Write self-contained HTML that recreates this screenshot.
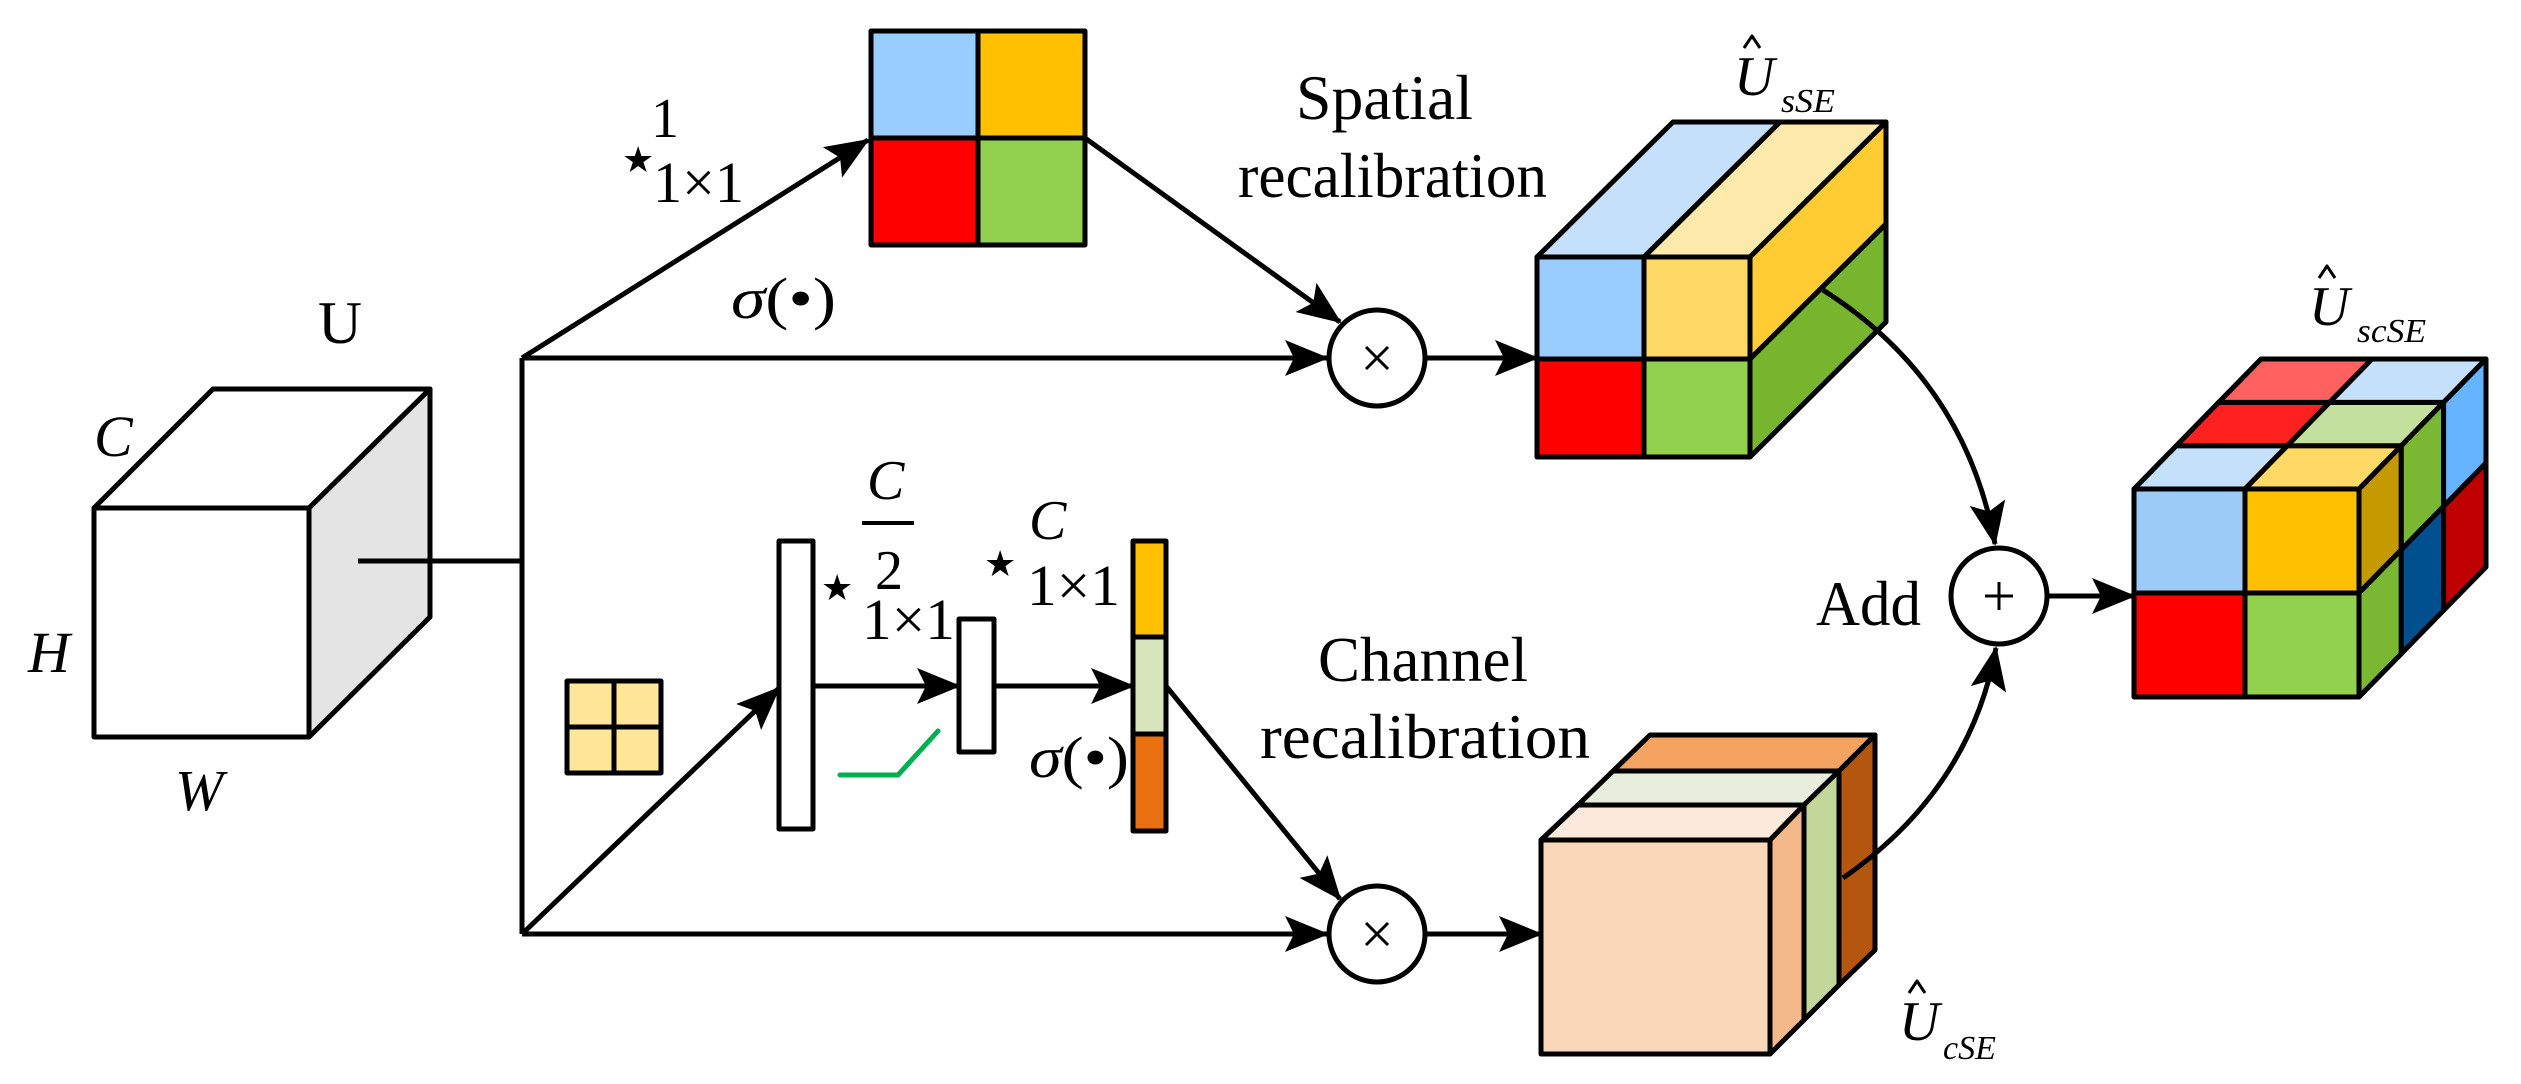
<!DOCTYPE html>
<html><head><meta charset="utf-8"><style>
html,body{margin:0;padding:0;background:#fff;}
svg{display:block;}
svg text{font-family:"Liberation Serif","DejaVu Serif",serif !important;fill:#000;}
</style></head><body>
<svg width="2521" height="1084" viewBox="0 0 2521 1084" xmlns="http://www.w3.org/2000/svg">
<defs>
<marker id="ah" markerWidth="46" markerHeight="36" refX="42" refY="18" orient="auto" markerUnits="userSpaceOnUse">
<path d="M0,0 L44,18 L0,36 L9,18 Z" fill="#000"/>
</marker>
</defs>
<g stroke="#000" stroke-width="5" stroke-linejoin="round" fill="none">
<polygon points="94,508 309,508 309,737 94,737" fill="#fff"/>
<polygon points="94,508 213,389 430,389 309,508" fill="#fff"/>
<polygon points="309,508 430,389 430,617 309,737" fill="#e4e4e4"/>
<line x1="358" y1="561" x2="522" y2="561"/>
<polyline points="522,358 522,934"/>
<line x1="522" y1="358" x2="868" y2="140" marker-end="url(#ah)"/>
<line x1="522" y1="358" x2="1327" y2="358" marker-end="url(#ah)"/>
<line x1="522" y1="934" x2="1327" y2="934" marker-end="url(#ah)"/>
<line x1="522" y1="934" x2="779" y2="688" marker-end="url(#ah)"/>
<rect x="871" y="31" width="107" height="107" fill="#99ccff"/>
<rect x="978" y="31" width="107" height="107" fill="#ffc000"/>
<rect x="871" y="138" width="107" height="107" fill="#ff0000"/>
<rect x="978" y="138" width="107" height="107" fill="#92d050"/>
<line x1="1085" y1="138" x2="1340" y2="322" marker-end="url(#ah)"/>
<rect x="567" y="681" width="94" height="92" fill="#ffe699"/>
<line x1="614" y1="681" x2="614" y2="773"/>
<line x1="567" y1="727" x2="661" y2="727"/>
<rect x="779" y="541" width="34" height="288" fill="#fff"/>
<line x1="813" y1="686" x2="959" y2="686" marker-end="url(#ah)"/>
<rect x="959" y="619" width="35" height="133" fill="#fff"/>
<line x1="994" y1="686" x2="1133" y2="686" marker-end="url(#ah)"/>
<rect x="1133" y="541" width="33" height="96" fill="#ffc000"/>
<rect x="1133" y="637" width="33" height="97" fill="#d8e4bc"/>
<rect x="1133" y="734" width="33" height="97" fill="#e97010"/>
<line x1="1166" y1="686" x2="1340" y2="899" marker-end="url(#ah)"/>
<circle cx="1377" cy="358" r="48" fill="#fff"/>
<circle cx="1377" cy="934" r="48" fill="#fff"/>
<line x1="1425" y1="358" x2="1537" y2="358" marker-end="url(#ah)"/>
<line x1="1425" y1="934" x2="1541" y2="934" marker-end="url(#ah)"/>
<polygon points="1537,257 1644,257 1780,122 1673,122" fill="#c5e0fb"/>
<polygon points="1644,257 1750,257 1886,122 1780,122" fill="#fde9a9"/>
<polygon points="1750,257 1886,122 1886,224 1750,359" fill="#ffcc33"/>
<polygon points="1750,359 1886,224 1886,322 1750,457" fill="#78b52f"/>
<rect x="1537" y="257" width="107" height="102" fill="#99ccff"/>
<rect x="1644" y="257" width="106" height="102" fill="#ffd966"/>
<rect x="1537" y="359" width="107" height="98" fill="#ff0000"/>
<rect x="1644" y="359" width="106" height="98" fill="#92d050"/>
<polygon points="1650,735 1875,735 1839,771 1613,771" fill="#f4a460"/>
<polygon points="1839,771 1875,735 1875,950 1839,985" fill="#b5560f"/>
<polygon points="1613,771 1839,771 1804,805 1578,805" fill="#e8eedc"/>
<polygon points="1804,805 1839,771 1839,985 1804,1020" fill="#c4d79b"/>
<polygon points="1578,805 1804,805 1770,840 1541,840" fill="#fde9d9"/>
<polygon points="1770,840 1804,805 1804,1020 1770,1054" fill="#f4b98b"/>
<rect x="1541" y="840" width="229" height="214" fill="#fad7b9"/>
<path d="M1823,290 Q1965,380 1995,544" marker-end="url(#ah)"/>
<path d="M1843,878 Q1970,790 1996,648" marker-end="url(#ah)"/>
<circle cx="1999" cy="596" r="48" fill="#fff"/>
<line x1="2047" y1="596" x2="2134" y2="596" marker-end="url(#ah)"/>
<polygon points="2134,489 2245,489 2287.3,445.7 2176.3,445.7" fill="#c5e0fb"/>
<polygon points="2245,489 2359,489 2401.3,445.7 2287.3,445.7" fill="#ffd966"/>
<polygon points="2176.3,445.7 2287.3,445.7 2329.6,402.4 2218.6,402.4" fill="#ff2020"/>
<polygon points="2287.3,445.7 2401.3,445.7 2443.6,402.4 2329.6,402.4" fill="#c4e09e"/>
<polygon points="2218.6,402.4 2329.6,402.4 2372,359 2261,359" fill="#ff6161"/>
<polygon points="2329.6,402.4 2443.6,402.4 2486,359 2372,359" fill="#c5e0fb"/>
<polygon points="2359,489 2401.3,445.7 2401.3,549.7 2359,593" fill="#c49a00"/>
<polygon points="2401.3,445.7 2443.6,402.4 2443.6,506.4 2401.3,549.7" fill="#7ab833"/>
<polygon points="2443.6,402.4 2486,359 2486,463 2443.6,506.4" fill="#66b3ff"/>
<polygon points="2359,593 2401.3,549.7 2401.3,653.7 2359,697" fill="#7ab833"/>
<polygon points="2401.3,549.7 2443.6,506.4 2443.6,610.4 2401.3,653.7" fill="#005090"/>
<polygon points="2443.6,506.4 2486,463 2486,567 2443.6,610.4" fill="#c00000"/>
<rect x="2134" y="489" width="111" height="104" fill="#9ccbf8"/>
<rect x="2245" y="489" width="114" height="104" fill="#ffc000"/>
<rect x="2134" y="593" width="111" height="104" fill="#ff0000"/>
<rect x="2245" y="593" width="114" height="104" fill="#92d050"/>
<polyline points="1744,48 1752,36 1760,48" stroke-width="3"/>
<polyline points="2319,278 2327,266 2335,278" stroke-width="3"/>
<polyline points="1909,993 1917,981 1925,993" stroke-width="3"/>
<line x1="862" y1="523" x2="914" y2="523" stroke-width="4"/>
</g>
<polyline points="840,775 898,775 938,731" fill="none" stroke="#00b050" stroke-width="5" stroke-linecap="round"/>
<g stroke="#000" stroke-width="3">
<line x1="1366" y1="347" x2="1388" y2="369"/><line x1="1388" y1="347" x2="1366" y2="369"/>
<line x1="1366" y1="923" x2="1388" y2="945"/><line x1="1388" y1="923" x2="1366" y2="945"/>
<line x1="1999" y1="582" x2="1999" y2="610"/><line x1="1985" y1="596" x2="2013" y2="596"/>
</g>
<g font-family="Liberation Serif, serif">
<text x="318" y="343" font-size="60" textLength="44" lengthAdjust="spacingAndGlyphs">U</text>
<text x="94" y="456" font-size="58" font-style="italic">C</text>
<text x="28" y="672" font-size="58" font-style="italic">H</text>
<text x="175" y="810" font-size="58" font-style="italic">W</text>
<text x="651" y="137" font-size="56">1</text>
<text x="622" y="172" font-size="36">★</text>
<text x="653" y="202" font-size="58" textLength="91" lengthAdjust="spacingAndGlyphs">1×1</text>
<text x="731" y="318" font-size="58" textLength="105" lengthAdjust="spacingAndGlyphs"><tspan font-style="italic">σ</tspan>(•)</text>
<text x="867" y="499" font-size="56" font-style="italic">C</text>
<text x="875" y="589" font-size="56">2</text>
<text x="821" y="600" font-size="36">★</text>
<text x="862" y="639" font-size="58" textLength="93" lengthAdjust="spacingAndGlyphs">1×1</text>
<text x="1029" y="539" font-size="56" font-style="italic">C</text>
<text x="984" y="576" font-size="36">★</text>
<text x="1027" y="605" font-size="58" textLength="93" lengthAdjust="spacingAndGlyphs">1×1</text>
<text x="1029" y="777" font-size="58" textLength="100" lengthAdjust="spacingAndGlyphs"><tspan font-style="italic">σ</tspan>(•)</text>
<text x="1296" y="119" font-size="64" textLength="177" lengthAdjust="spacingAndGlyphs">Spatial</text>
<text x="1238" y="197" font-size="64" textLength="309" lengthAdjust="spacingAndGlyphs">recalibration</text>
<text x="1318" y="681" font-size="64" textLength="210" lengthAdjust="spacingAndGlyphs">Channel</text>
<text x="1260" y="758" font-size="64" textLength="330" lengthAdjust="spacingAndGlyphs">recalibration</text>
<text x="1816" y="625" font-size="64" textLength="105" lengthAdjust="spacingAndGlyphs">Add</text>
<text x="1734" y="95" font-size="56" font-style="italic">U</text>
<text x="1781" y="112" font-size="34" font-style="italic" textLength="54" lengthAdjust="spacingAndGlyphs">sSE</text>
<text x="2309" y="325" font-size="56" font-style="italic">U</text>
<text x="2357" y="342" font-size="34" font-style="italic" textLength="69" lengthAdjust="spacingAndGlyphs">scSE</text>
<text x="1899" y="1040" font-size="56" font-style="italic">U</text>
<text x="1943" y="1059" font-size="34" font-style="italic" textLength="53" lengthAdjust="spacingAndGlyphs">cSE</text>
</g>
</svg>
</body></html>
